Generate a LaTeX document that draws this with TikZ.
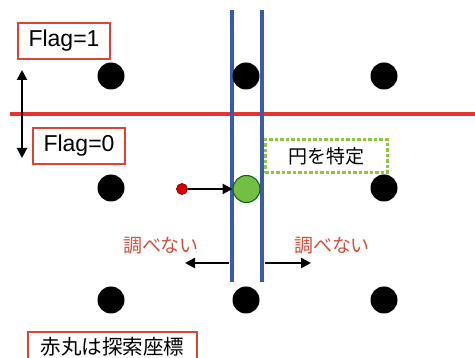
\documentclass[tikz,border=0pt]{standalone}
\usepackage{fontspec}
\setmainfont{Liberation Sans}
\newfontfamily\jp{Noto Sans CJK JP}
\usetikzlibrary{arrows.meta}
\definecolor{lred}{HTML}{E8322E}
\definecolor{bred}{HTML}{DB4437}
\definecolor{tred}{HTML}{D4503C}
\definecolor{lblue}{HTML}{3B5BA9}
\definecolor{gfill}{HTML}{72BF44}
\definecolor{gdash}{HTML}{8DC63F}
\tikzset{
  dot/.style={circle, fill=black, minimum size=27pt, inner sep=0pt},
  redbox/.style={draw=bred, line width=2pt, inner sep=0pt, fill=white},
  flagtxt/.style={font=\fontsize{23}{23}\selectfont},
  jptxt/.style={font=\jp\fontsize{19}{19}\selectfont},
  arr/.style={line width=2.6pt, -{Triangle[length=10pt,width=10pt]}},
  darr/.style={line width=2.6pt, {Triangle[length=10pt,width=10pt]}-{Triangle[length=10pt,width=10pt]}},
  bline/.style={draw=lblue, line width=3.8pt},
  rline/.style={draw=lred, line width=3.8pt}
}
\begin{document}
\begin{tikzpicture}[x=1pt,y=-1pt]
\useasboundingbox[fill=white] (0,0) rectangle (475,358);
\clip (0,0) rectangle (475,358);
% lines
\coordinate (r1) at (10,114);
\coordinate (r2) at (476,114);
\draw[rline] (r1) -- (r2);
\coordinate (b1t) at (232,10);
\coordinate (b1b) at (232,282);
\coordinate (b2t) at (262,10);
\coordinate (b2b) at (262,282);
\draw[bline] (b1t) -- (b1b);
\draw[bline] (b2t) -- (b2b);
% dots
\node[dot] (d11) at (111,76) {};
\node[dot] (d12) at (246,76) {};
\node[dot] (d13) at (384,76) {};
\node[dot] (d21) at (111,188) {};
\node[dot] (d23) at (384,188) {};
\node[dot] (d31) at (111,300) {};
\node[dot] (d32) at (246,300) {};
\node[dot] (d33) at (384,300) {};
\node[circle, fill=gfill, draw=black!60!green, line width=1pt, minimum size=27pt, inner sep=0pt] (green) at (246.5,189) {};
\node[circle, fill=red!85!black, draw=red!50!black, line width=0.7pt, minimum size=11pt, inner sep=0pt] (rdot) at (182,189) {};
\draw[arr] (rdot) -- (green);
% flag boxes
\node[redbox, flagtxt, minimum width=92pt, minimum height=36pt] (f1) at (64,41) {Flag=1};
\node[redbox, flagtxt, minimum width=92pt, minimum height=36pt] (f0) at (79,146) {Flag=0};
\coordinate (ua) at (22,70);
\coordinate (da) at (22,158);
\draw[darr] (ua) -- (da);
% identify box
\node[draw=gdash, line width=3pt, dash pattern=on 3.5pt off 2pt, jptxt, fill=white, minimum width=122pt, minimum height=33pt, inner sep=0pt] (ident) at (326,156.5) {円を特定};
% not checked
\node[jptxt, text=tred] (nl) at (161,246) {調べない};
\node[jptxt, text=tred] (nr) at (332,246) {調べない};
\coordinate (la1) at (229,263);
\coordinate (la2) at (185,263);
\coordinate (ra1) at (265,263);
\coordinate (ra2) at (311,263);
\draw[arr] (la1) -- (la2);
\draw[arr] (ra1) -- (ra2);
% legend
\node[redbox, font=\jp\fontsize{20.5}{20.5}\selectfont, minimum width=169pt, minimum height=30pt, anchor=north west] (legend) at (27,331) {赤丸は探索座標};
\end{tikzpicture}
\end{document}
